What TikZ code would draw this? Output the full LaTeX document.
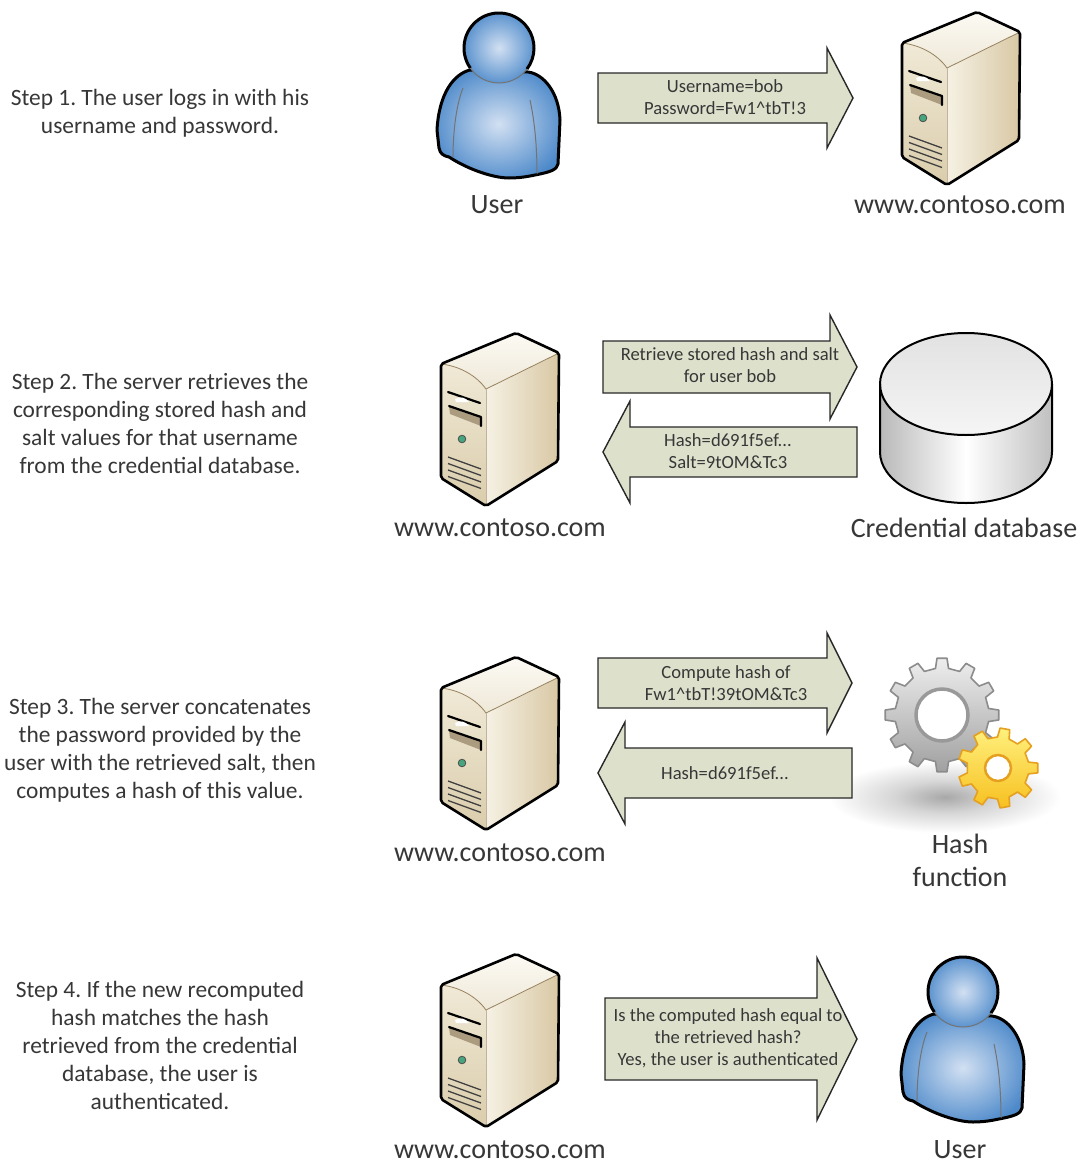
\documentclass[tikz,border=0pt]{standalone}
\usepackage{fontspec}
\setmainfont{Carlito}
\usetikzlibrary{calc}
\frenchspacing

\definecolor{inktext}{RGB}{55,55,55}
\definecolor{arrowfill}{RGB}{221,225,204}
\definecolor{arrowline}{RGB}{40,40,40}
\definecolor{ublue}{RGB}{78,138,202}
\definecolor{ulight}{RGB}{210,224,242}
\definecolor{udark}{RGB}{62,118,182}
\definecolor{srvtopA}{RGB}{252,250,244}
\definecolor{srvtopB}{RGB}{238,232,215}
\definecolor{srvfrontA}{RGB}{240,233,214}
\definecolor{srvfrontB}{RGB}{218,205,172}
\definecolor{srvsideA}{RGB}{246,241,228}
\definecolor{srvsideB}{RGB}{216,200,164}
\definecolor{srvedge}{RGB}{150,130,95}
\definecolor{ledgreen}{RGB}{70,165,125}
\definecolor{dbside}{RGB}{185,185,185}
\definecolor{dbtop}{RGB}{226,226,226}
\definecolor{gearA}{RGB}{238,238,238}
\definecolor{gearB}{RGB}{160,160,160}
\definecolor{gearline}{RGB}{140,140,140}
\definecolor{cogA}{RGB}{255,240,125}
\definecolor{cogB}{RGB}{247,192,32}
\definecolor{cogline}{RGB}{228,160,30}

\pgfdeclareradialshading{userglow}{\pgfpoint{0bp}{0bp}}{color(0bp)=(ulight); color(28bp)=(ublue); color(50bp)=(udark)}
\pgfdeclareradialshading{softshadow}{\pgfpoint{0bp}{0bp}}{color(0bp)=(black!34); color(11bp)=(black!16); color(25bp)=(white); color(50bp)=(white)}

\tikzset{
  steptext/.style={text=inktext, align=center, font=\fontsize{23.4}{28}\selectfont},
  iconlabel/.style={text=inktext, align=center, font=\fontsize{28}{33}\selectfont},
  arrowtext/.style={text=inktext, align=center, font=\fontsize{18.6}{22}\selectfont},
  blockarrow/.style={fill=arrowfill, draw=arrowline, line width=1.4pt, line join=miter},
  % tower server, origin at the top-left of its outline
  server/.pic={
    \shade[left color=srvsideA, right color=srvsideB]
      (45,56) -- (118,20) -- (117,128) -- (45,173) -- cycle;
    \shade[top color=srvfrontA, bottom color=srvfrontB]
      (0,31) .. controls (18,33) and (35,42) .. (45,56) -- (45,173) -- (0,145) -- cycle;
    \shade[top color=srvtopA, bottom color=srvtopB]
      (0,31) -- (75,0) -- (118,20) -- (45,56) .. controls (35,42) and (18,33) .. (0,31) -- cycle;
    \draw[srvedge, line width=0.8pt] (0,31) .. controls (18,33) and (35,42) .. (45,56) -- (118,20);
    \draw[srvedge!60, line width=0.6pt] (45,56) -- (45,173);
    % drive bay
    \draw[line width=2.2pt, line cap=round] (7,59) -- (39,70);
    \fill[white] (14,66) .. controls (19,63) and (24,64) .. (28,69) -- (15,69) -- cycle;
    \fill[srvedge!80] (8,73) -- (40,84) -- (40,93) -- (9,81) -- cycle;
    \draw[line width=2.2pt, line cap=round, line join=round] (8,73) -- (40,84) -- (40,93);
    % power lamp
    \filldraw[fill=ledgreen, draw=black!70, line width=0.8pt] (21,106) circle[radius=3.8];
    % vents
    \foreach \k in {0,...,3}
      \draw[black!75, line width=1.3pt] (7,124+6.5*\k) -- (40,136+6.5*\k);
    % outline
    \draw[line width=2.6pt, line join=round, rounded corners=2pt]
      (0,31) -- (75,0) -- (118,20) -- (117,128) -- (45,173) -- (0,145) -- cycle;
  },
  % person, origin at the centre of the head
  user/.pic={
    \shadedraw[shading=userglow, draw=black, line width=3pt, line join=round]
      (-29,22) .. controls (-45,26) and (-60,45) .. (-62,82) -- (-60,100)
      .. controls (-59,106) and (-55,108) .. (-50,109)
      .. controls (-30,122) and (-5,130) .. (10,130)
      .. controls (25,130) and (35,127) .. (41,126)
      .. controls (50,124) and (58,122) .. (59,116) -- (61,72)
      .. controls (60,45) and (45,26) .. (29,24) -- cycle;
    \draw[black!55, line width=1pt] (-36,40) .. controls (-44,60) and (-46,90) .. (-46,109);
    \draw[black!55, line width=1pt] (31,52) .. controls (36,75) and (38,100) .. (38,126);
    \shade[shading=userglow] (0,0) circle[radius=35];
    \draw[line width=3pt] (145:35) arc[start angle=145, end angle=397, radius=35];
    \draw[black!55, line width=1pt] (37:35) arc[start angle=37, end angle=145, radius=35];
  }
}

\newcommand\blockright[6]{% left x, head base x, tip x, mid y, body half height, head half height
  \draw[blockarrow] (#1,#4-#5) -- (#2,#4-#5) -- (#2,#4-#6) -- (#3,#4)
    -- (#2,#4+#6) -- (#2,#4+#5) -- (#1,#4+#5) -- cycle;}
\newcommand\blockleft[6]{% right x, head base x, tip x, mid y, body half height, head half height
  \draw[blockarrow] (#1,#4-#5) -- (#2,#4-#5) -- (#2,#4-#6) -- (#3,#4)
    -- (#2,#4+#6) -- (#2,#4+#5) -- (#1,#4+#5) -- cycle;}

\begin{document}
\begin{tikzpicture}[x=1pt, y=-1pt]
\fill[white] (0,0) rectangle (1083,1165);
\useasboundingbox (0,0) rectangle (1083,1165);

% ---- step descriptions
\node[steptext] (step1) at (160,113) {Step 1. The user logs in with his\\username and password.};
\node[steptext] (step2) at (160,423) {Step 2. The server retrieves the\\corresponding stored hash and\\salt values for that username\\from the credential database.};
\node[steptext] (step3) at (160,750) {Step 3. The server concatenates\\the password provided by the\\user with the retrieved salt, then\\computes a hash of this value.};
\node[steptext] (step4) at (160,1045) {Step 4. If the new recomputed\\hash matches the hash\\retrieved from the credential\\database, the user is\\authenticated.};

% ---- icons
\pic (userA) at (499,48) {user};
\pic (srvA) at (902,12) {server};
\pic (srvB) at (441,333) {server};
\pic (srvC) at (441,657) {server};
\pic (srvD) at (441,954) {server};
\pic (userB) at (963,992) {user};

% credential database
\shade[left color=dbside, right color=dbside!90, middle color=white]
  (880,384) -- (880,452) arc[start angle=180, end angle=0, x radius=86, y radius=51] -- (1052,384) -- cycle;
\shade[top color=dbtop, bottom color=white!96!black] (966,384) ellipse[x radius=86, y radius=51];
\draw[line width=2pt] (880,384) -- (880,452) arc[start angle=180, end angle=0, x radius=86, y radius=51] -- (1052,384);
\draw[line width=2pt] (966,384) ellipse[x radius=86, y radius=51];

% hash function gears
\shade[shading=softshadow] (945,797) ellipse[x radius=116, y radius=36];
\begin{scope}[shift={(942,715)}]
  \shadedraw[top color=gearA, bottom color=gearB, draw=gearline, line width=1.6pt, line join=round]
    (-8:47) \foreach \i in {0,...,11} { -- ({\i*30-8}:47) -- ({\i*30-5}:57) -- ({\i*30+5}:57) -- ({\i*30+8}:47) } -- cycle;
  \filldraw[fill=white, draw=black!40, line width=3.5pt] (0,0) circle[radius=26];
\end{scope}
\begin{scope}[shift={(998,768)}]
  \shadedraw[top color=cogA, bottom color=cogB, draw=cogline, line width=1.6pt, line join=round]
    (-11:31) \foreach \i in {0,...,8} { -- ({\i*40-11}:31) -- ({\i*40-7}:40) -- ({\i*40+7}:40) -- ({\i*40+11}:31) } -- cycle;
  \filldraw[fill=white, draw=cogline, line width=2.5pt] (0,0) circle[radius=13];
\end{scope}

% ---- message arrows
\blockright{598}{827}{853}{98}{25}{50}
\blockright{603}{830}{857}{367}{26}{52}
\blockleft{857}{630}{603}{452}{25}{51}
\blockright{598}{827}{852}{683}{25}{50}
\blockleft{852}{625}{598}{773}{25}{51}
\blockright{605}{817}{857}{1039}{41}{81}

\node[arrowtext] (msg1) at (725,97) {Username=bob\\Password=Fw1\textasciicircum tbT!3};
\node[arrowtext] (msg2) at (730,365) {Retrieve stored hash and salt\\for user bob};
\node[arrowtext] (msg3) at (728,451) {Hash=d691f5ef...\\Salt=9tOM\&Tc3};
\node[arrowtext] (msg4) at (726,683) {Compute hash of\\Fw1\textasciicircum tbT!39tOM\&Tc3};
\node[arrowtext] (msg5) at (725,773) {Hash=d691f5ef...};
\node[arrowtext] (msg6) at (728,1038) {Is the computed hash equal to\\the retrieved hash?\\Yes, the user is authenticated};

% ---- icon captions
\node[iconlabel] (capUserA) at (497,205) {User};
\node[iconlabel] (capSrvA) at (960,205) {www.contoso.com};
\node[iconlabel] (capSrvB) at (500,528) {www.contoso.com};
\node[iconlabel] (capDB) at (964,528) {Credential database};
\node[iconlabel] (capSrvC) at (500,853) {www.contoso.com};
\node[iconlabel] (capHash) at (960,860) {Hash\\function};
\node[iconlabel] (capSrvD) at (500,1150) {www.contoso.com};
\node[iconlabel] (capUserB) at (960,1150) {User};
\end{tikzpicture}
\end{document}
